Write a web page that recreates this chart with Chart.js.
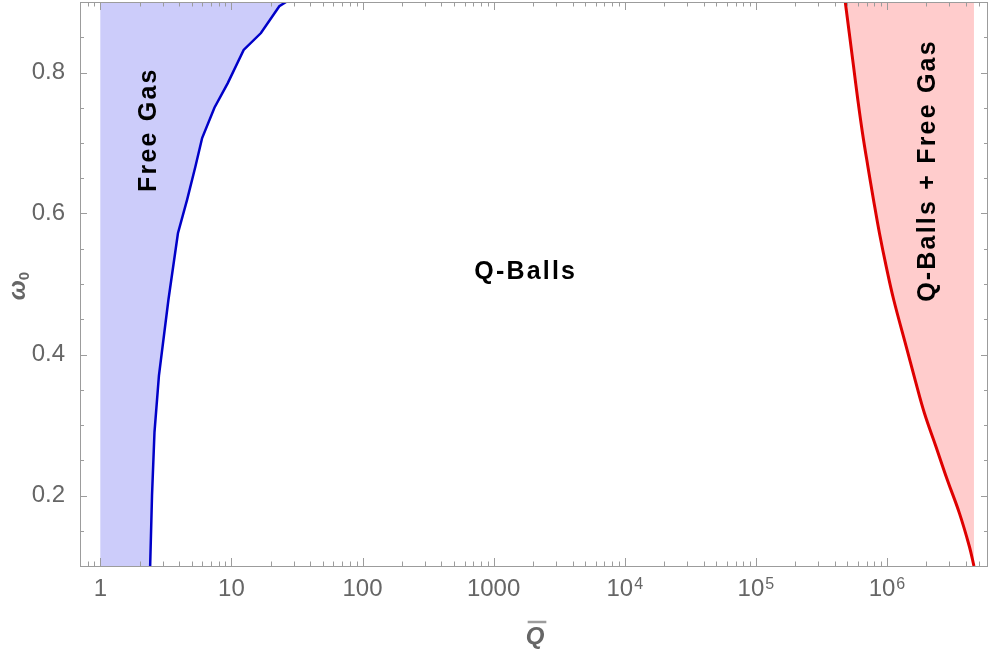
<!DOCTYPE html>
<html>
<head>
<meta charset="utf-8">
<script src="https://cdn.jsdelivr.net/npm/chart.js@4.4.0/dist/chart.umd.min.js"></script>
<style>
  html, body { margin: 0; padding: 0; background: #fff; }
  #wrap { width: 988px; height: 649px; }
</style>
</head>
<body>
<div id="wrap"><canvas id="chart"></canvas></div>
<script>
// boundary of the free gas region (Q bar vs omega_0)
const freeGasQ = [2.40, 2.48, 2.59, 2.80, 3.31, 3.91, 4.60, 5.32, 5.98, 7.42, 9.38, 12.4, 16.8, 23.2, 26.1];
const freeGasW = [0.10, 0.20, 0.29, 0.37, 0.478, 0.572, 0.62, 0.667, 0.707, 0.75, 0.785, 0.832, 0.856, 0.894, 0.90];

// boundary of the Q-balls + free gas region
const mixedQ = [4.81e5, 5.16e5, 5.56e5, 6.00e5, 6.50e5, 7.15e5, 7.89e5, 8.77e5, 9.87e5, 1.125e6,
                1.40e6, 1.64e6, 1.93e6, 2.36e6, 2.89e6, 3.57e6, 4.25e6, 4.61e6];
const mixedW = [0.90, 0.856, 0.809, 0.761, 0.715, 0.667, 0.620, 0.572, 0.525, 0.478,
                0.412, 0.364, 0.317, 0.270, 0.222, 0.175, 0.128, 0.10];

const xTicks = [1, 10, 100, 1000, 1e4, 1e5, 1e6];
const xTickLabels = ['1', '10', '100', '1000', '10', '10', '10'];
const xTickPowers = ['', '', '', '', '4', '5', '6'];
const yTicks = [0.2, 0.4, 0.6, 0.8];

const regionNames = ['Free Gas', 'Q-Balls', 'Q-Balls + Free Gas'];
const regionQ = [2.36, 1757, 2.06e6];
const regionW = [0.719, 0.517, 0.661];
const regionAngle = [-90, 0, -90];

const xMin = 0.7166, xMax = 5.9e6;
const yMin = 0.1, yMax = 0.9;

const freeGasLine = freeGasQ.map((q, i) => ({ x: q, y: freeGasW[i] }));
const mixedLine = mixedQ.map((q, i) => ({ x: q, y: mixedW[i] }));
const freeGasShape = freeGasLine.concat([{ x: 1, y: yMax }, { x: 1, y: yMin }]);
const mixedShape = mixedLine.concat([{ x: mixedQ[mixedQ.length - 1], y: yMax }]);

const gray = '#666666';
const frameColor = '#9c9c9c';
const sans = '"Liberation Sans", Arial, sans-serif';

const framePlugin = {
  id: 'frameTicks',
  afterDatasetsDraw(chart) {
    const { ctx, chartArea: a, scales: { x, y } } = chart;
    ctx.save();
    ctx.strokeStyle = frameColor;
    ctx.lineWidth = 1;
    ctx.beginPath();
    ctx.moveTo(a.left + 0.5, a.top + 0.5);
    ctx.lineTo(a.left + 0.5, a.bottom + 0.5);
    ctx.lineTo(a.right, a.bottom + 0.5);
    ctx.moveTo(a.left, a.top + 0.5);
    ctx.lineTo(a.right, a.top + 0.5);
    ctx.moveTo(a.right - 0.5, a.top);
    ctx.lineTo(a.right - 0.5, a.bottom);
    // log ticks on bottom and top
    for (let k = -1; k <= 6; k++) {
      for (let m = 1; m <= 9; m++) {
        const v = m * Math.pow(10, k);
        if (v < xMin || v > xMax) continue;
        const px = Math.round(x.getPixelForValue(v)) + 0.5;
        const len = m === 1 ? 8 : 4.5;
        ctx.moveTo(px, a.bottom);
        ctx.lineTo(px, a.bottom - len);
        ctx.moveTo(px, a.top);
        ctx.lineTo(px, a.top + len);
      }
    }
    // linear ticks on left and right
    for (let i = 2; i <= 18; i++) {
      const py = Math.round(y.getPixelForValue(i * 0.05)) + 0.5;
      const len = i % 4 === 0 ? 7 : 4;
      ctx.moveTo(a.left, py);
      ctx.lineTo(a.left + len, py);
      ctx.moveTo(a.right, py);
      ctx.lineTo(a.right - len, py);
    }
    ctx.stroke();

    // x tick labels with exponents
    ctx.fillStyle = gray;
    ctx.textBaseline = 'alphabetic';
    ctx.textAlign = 'left';
    xTicks.forEach((v, i) => {
      ctx.font = '24px ' + sans;
      const bw = ctx.measureText(xTickLabels[i]).width;
      ctx.font = '16px ' + sans;
      const pw = xTickPowers[i] ? ctx.measureText(xTickPowers[i]).width + 1 : 0;
      const left = x.getPixelForValue(v) - (bw + pw) / 2;
      ctx.font = '24px ' + sans;
      ctx.fillText(xTickLabels[i], left, a.bottom + 30);
      if (pw) {
        ctx.font = '16px ' + sans;
        ctx.fillText(xTickPowers[i], left + bw + 1, a.bottom + 23);
      }
    });

    // axis titles
    ctx.font = 'bold italic 24px ' + sans;
    ctx.textAlign = 'center';
    const qx = (a.left + a.right) / 2 + 1;
    ctx.fillText('Q', qx, 644);
    const qw = ctx.measureText('Q').width;
    ctx.lineWidth = 2.5;
    ctx.beginPath();
    ctx.moveTo(qx - qw / 2 + 2, 622);
    ctx.lineTo(qx + qw / 2 + 2, 622);
    ctx.stroke();

    ctx.translate(17, (a.top + a.bottom) / 2 + 2);
    ctx.rotate(-Math.PI / 2);
    ctx.textAlign = 'left';
    const ww = ctx.measureText('\u03c9').width;
    ctx.font = 'bold 15px ' + sans;
    const sw = ctx.measureText('0').width;
    ctx.font = 'bold italic 24px ' + sans;
    const x0 = -(ww + sw) / 2;
    ctx.fillText('\u03c9', x0, 8);
    ctx.font = 'bold 15px ' + sans;
    ctx.fillText('0', x0 + ww, 12);
    ctx.restore();

    // region names
    ctx.save();
    ctx.fillStyle = '#000';
    ctx.font = 'bold 25px ' + sans;
    ctx.letterSpacing = '2.2px';
    ctx.textAlign = 'center';
    ctx.textBaseline = 'middle';
    regionNames.forEach((t, i) => {
      ctx.save();
      ctx.translate(x.getPixelForValue(regionQ[i]), y.getPixelForValue(regionW[i]));
      ctx.rotate(regionAngle[i] * Math.PI / 180);
      ctx.fillText(t, 0, 0);
      ctx.restore();
    });
    ctx.restore();
  }
};

new Chart(document.getElementById('chart'), {
  type: 'scatter',
  data: {
    datasets: [
      {
        data: freeGasLine, showLine: true, fill: false, tension: 0,
        borderColor: 'rgb(0,0,200)', borderWidth: 2.5, pointRadius: 0, order: 0
      },
      {
        data: mixedLine, showLine: true, fill: false, tension: 0.4,
        borderColor: 'rgb(222,0,0)', borderWidth: 3, pointRadius: 0, order: 0
      },
      {
        data: freeGasShape, showLine: true, fill: 'shape', borderWidth: 0,
        borderColor: 'rgba(0,0,0,0)', backgroundColor: 'rgb(204,204,250)', pointRadius: 0, order: 1
      },
      {
        data: mixedShape, showLine: true, fill: 'shape', borderWidth: 0,
        borderColor: 'rgba(0,0,0,0)', backgroundColor: 'rgb(255,204,204)', pointRadius: 0, order: 1
      }
    ]
  },
  options: {
    responsive: true,
    maintainAspectRatio: false,
    animation: false,
    layout: { padding: { top: 2, right: 0, left: 0, bottom: 0 } },
    plugins: { legend: { display: false }, tooltip: { enabled: false } },
    scales: {
      x: {
        type: 'logarithmic',
        min: xMin, max: xMax,
        grid: { display: false },
        border: { display: false },
        ticks: { display: false },
        afterBuildTicks: s => { s.ticks = xTicks.map(v => ({ value: v })); },
        afterFit: s => { s.height = 83; s.paddingLeft = 0; s.paddingRight = 0; }
      },
      y: {
        min: yMin, max: yMax,
        grid: { display: false },
        border: { display: false },
        afterBuildTicks: s => { s.ticks = yTicks.map(v => ({ value: v })); },
        afterFit: s => { s.width = 80; s.paddingTop = 0; s.paddingBottom = 0; },
        ticks: {
          padding: 7, color: gray,
          font: { family: sans, size: 24 },
          callback: (v) => v.toFixed(1)
        }
      }
    }
  },
  plugins: [framePlugin]
});
</script>
</body>
</html>
